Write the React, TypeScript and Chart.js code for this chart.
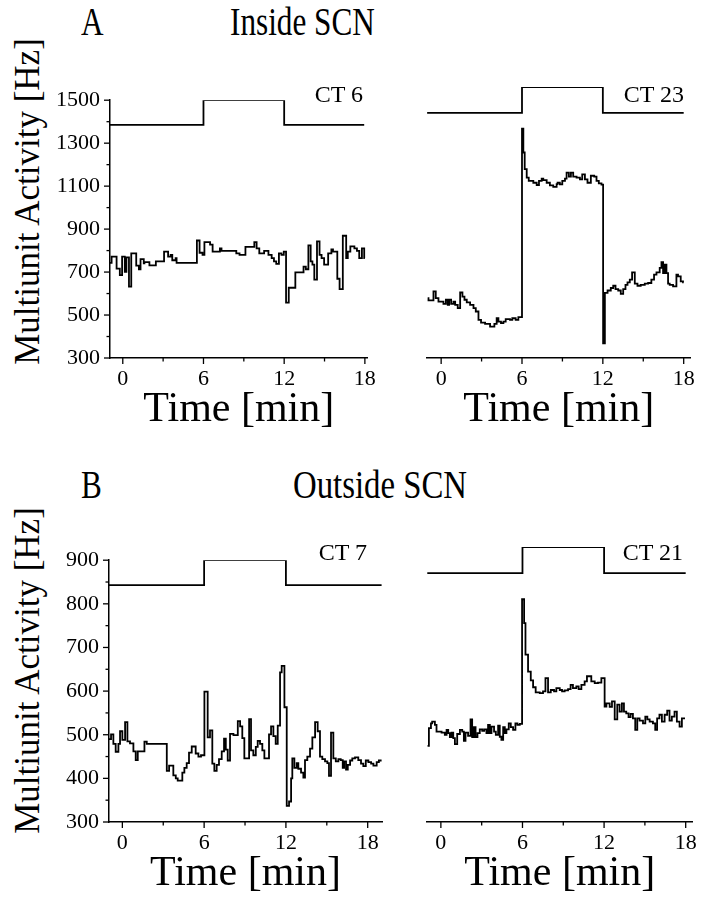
import React, { useEffect, useRef } from "react";
import { Chart, registerables } from "chart.js";

Chart.register(...registerables);

const FONT = "'Liberation Serif', 'Times New Roman', Times, serif";

// ---------- Tick labels ----------
const X_MAJOR = [0, 6, 12, 18];
const X_MINOR = [3, 9, 15];
const Y_MAJOR_A = [300, 500, 700, 900, 1100, 1300, 1500];
const Y_MINOR_A = [400, 600, 800, 1000, 1200, 1400];
const Y_MAJOR_B = [300, 400, 500, 600, 700, 800, 900];
const Y_MINOR_B = [350, 450, 550, 650, 750, 850];

// ---------- Stimulus (light pulse) traces ----------
const stimA_left_t = [-0.95, 6, 12, 17.95];
const stimA_right_t = [-1.04, 6, 12, 18];
const stimA_v = [1385, 1500, 1385, 1385];
const stimB_left_t = [-0.98, 6, 12, 19.02];
const stimB_right_t = [-1.0, 6, 12, 18];
const stimB_v = [843, 900, 843, 843];

// ---------- A: Inside SCN, CT 6 ----------
const ct6Times = [-0.95, -0.83, -0.46, -0.22, -0.05, 0.15, 0.27, 0.46, 0.63, 1.0, 1.2, 1.32, 1.56, 1.61, 1.98, 2.46, 3.07, 3.37, 3.56, 3.68, 3.93, 4.0, 5.51, 5.71, 5.93, 6.07, 6.49, 6.68, 7.22, 7.34, 8.44, 8.68, 9.12, 9.78, 9.95, 10.15, 10.51, 10.83, 11.07, 11.24, 11.41, 11.61, 11.8, 11.97, 12.14, 12.34, 12.83, 13.44, 13.61, 13.8, 13.97, 14.1, 14.24, 14.44, 14.63, 14.78, 14.97, 15.27, 15.51, 15.63, 15.95, 16.12, 16.36, 16.61, 16.73, 16.92, 17.22, 17.41, 17.58, 17.78, 17.95];
const ct6Values = [743, 772, 716, 686, 772, 701, 768, 632, 787, 730, 713, 760, 740, 746, 731, 750, 795, 772, 780, 755, 765, 743, 847, 790, 780, 839, 828, 795, 810, 799, 787, 780, 817, 839, 810, 787, 799, 780, 765, 750, 738, 787, 780, 795, 558, 627, 699, 725, 713, 824, 750, 735, 665, 843, 780, 765, 735, 787, 805, 795, 669, 621, 869, 765, 795, 820, 810, 799, 765, 810, 765];
const ct6End = 18.0;

// ---------- A: Inside SCN, CT 23 ----------
const ct23Times = [-1.0, -0.94, -0.57, -0.4, -0.2, 0.17, 0.35, 0.49, 0.59, 0.74, 0.91, 1.04, 1.23, 1.41, 1.58, 1.73, 1.9, 2.15, 2.4, 2.57, 2.77, 2.96, 3.26, 3.63, 3.95, 4.12, 4.25, 4.44, 4.62, 4.79, 5.11, 5.28, 5.53, 5.73, 6.0, 6.1, 6.2, 6.35, 6.5, 6.84, 7.09, 7.26, 7.46, 7.58, 7.83, 8.07, 8.32, 8.57, 8.64, 8.81, 8.99, 9.19, 9.31, 9.48, 9.63, 9.8, 10.05, 10.3, 10.47, 10.67, 10.86, 11.11, 11.36, 11.53, 11.7, 11.9, 12.02, 12.15, 12.35, 12.59, 12.77, 12.94, 13.14, 13.33, 13.51, 13.68, 13.83, 14.0, 14.17, 14.37, 14.57, 14.81, 15.11, 15.36, 15.6, 15.8, 15.98, 16.22, 16.35, 16.47, 16.59, 16.72, 16.84, 16.96, 17.21, 17.46, 17.58, 17.78, 17.95];
const ct23Values = [565, 555, 595, 565, 550, 540, 558, 535, 558, 540, 550, 535, 521, 590, 572, 558, 546, 535, 521, 506, 469, 457, 451, 439, 451, 476, 461, 454, 461, 472, 469, 476, 469, 481, 1316, 1210, 1136, 1099, 1084, 1076, 1066, 1084, 1094, 1088, 1076, 1064, 1058, 1070, 1076, 1069, 1084, 1094, 1121, 1103, 1121, 1103, 1099, 1091, 1113, 1091, 1076, 1107, 1103, 1084, 1073, 1068, 365, 588, 599, 610, 620, 605, 599, 584, 605, 624, 635, 647, 679, 629, 620, 624, 629, 632, 647, 669, 679, 699, 724, 676, 713, 676, 629, 624, 617, 669, 661, 639, 635];
const ct23End = 18.0;

// ---------- B: Outside SCN, CT 7 ----------
const ct7Times = [-0.98, -0.83, -0.66, -0.49, -0.29, -0.17, 0.0, 0.2, 0.37, 0.56, 0.81, 0.98, 1.13, 1.62, 1.79, 3.26, 3.43, 3.74, 3.92, 4.06, 4.4, 4.55, 4.72, 4.89, 5.09, 5.38, 5.58, 5.77, 6.02, 6.26, 6.43, 6.6, 6.75, 6.92, 7.09, 7.29, 7.46, 7.59, 7.73, 7.9, 8.15, 8.47, 8.64, 8.8, 8.95, 9.3, 9.44, 9.61, 9.79, 9.93, 10.1, 10.27, 10.42, 10.76, 10.91, 11.08, 11.25, 11.4, 11.57, 11.69, 11.89, 12.06, 12.23, 12.38, 12.47, 12.62, 12.79, 12.91, 13.11, 13.28, 13.4, 13.57, 13.77, 13.94, 14.14, 14.33, 14.5, 14.67, 14.87, 15.04, 15.16, 15.31, 15.48, 15.66, 15.85, 16.02, 16.17, 16.27, 16.41, 16.54, 16.71, 16.87, 17.07, 17.31, 17.51, 17.68, 17.86, 18.05, 18.25, 18.42, 18.66, 18.82];
const ct7Values = [490, 501, 479, 461, 479, 508, 488, 529, 485, 480, 462, 442, 462, 484, 479, 417, 429, 407, 400, 395, 413, 424, 435, 459, 473, 457, 450, 453, 599, 494, 510, 434, 417, 431, 444, 462, 491, 466, 441, 502, 499, 531, 519, 492, 446, 536, 464, 453, 472, 486, 479, 464, 446, 501, 519, 497, 479, 521, 643, 658, 563, 337, 347, 400, 446, 424, 435, 422, 413, 402, 442, 450, 468, 494, 529, 508, 450, 444, 439, 435, 406, 505, 446, 439, 444, 442, 424, 439, 420, 431, 441, 446, 448, 442, 434, 428, 441, 437, 434, 429, 437, 441];
const ct7End = 19.02;

// ---------- B: Outside SCN, CT 21 ----------
const ct21Times = [-0.98, -0.88, -0.73, -0.64, -0.44, -0.32, 0.05, 0.29, 0.42, 0.54, 0.66, 0.78, 0.91, 1.03, 1.2, 1.4, 1.57, 1.69, 1.81, 2.0, 2.18, 2.3, 2.42, 2.55, 2.69, 2.86, 3.04, 3.18, 3.35, 3.47, 3.6, 3.72, 3.91, 4.04, 4.21, 4.33, 4.45, 4.58, 4.7, 4.82, 4.99, 5.14, 5.31, 5.48, 5.63, 5.8, 5.97, 6.12, 6.22, 6.41, 6.61, 6.78, 6.97, 7.27, 7.51, 7.69, 7.88, 8.08, 8.32, 8.49, 8.74, 8.91, 9.1, 9.35, 9.54, 9.71, 9.96, 10.13, 10.33, 10.57, 10.74, 11.06, 11.31, 11.55, 11.8, 12.04, 12.17, 12.41, 12.58, 12.78, 12.97, 13.14, 13.31, 13.46, 13.63, 13.8, 13.95, 14.12, 14.29, 14.44, 14.61, 14.86, 15.03, 15.18, 15.35, 15.59, 15.76, 15.9, 16.07, 16.25, 16.45, 16.64, 16.81, 16.98, 17.18, 17.35, 17.55, 17.72];
const ct21Values = [466, 505, 515, 519, 512, 497, 495, 490, 501, 494, 485, 495, 483, 470, 492, 501, 497, 477, 495, 488, 524, 485, 507, 485, 494, 502, 499, 502, 494, 512, 494, 508, 497, 490, 510, 486, 479, 507, 494, 502, 515, 507, 501, 515, 512, 514, 786, 734, 665, 628, 609, 594, 583, 581, 585, 614, 583, 588, 585, 592, 588, 585, 587, 590, 599, 592, 596, 590, 599, 607, 618, 607, 603, 604, 614, 552, 559, 551, 563, 524, 556, 541, 559, 541, 537, 529, 536, 526, 501, 526, 521, 515, 530, 524, 519, 515, 501, 526, 534, 519, 534, 543, 521, 530, 541, 519, 508, 526];
const ct21End = 17.95;

type Box = { L: number; T: number; R: number; B: number };

type PanelProps = {
  box: Box;
  xMin: number;
  xMax: number;
  yMin: number;
  yMax: number;
  yMajor: number[];
  yMinor: number[];
  showY: boolean;
  times: number[];
  values: number[];
  endTime: number;
  stimTimes: number[];
  stimValues: number[];
};

const PAD_L = 100;
const PAD_T = 10;
const PAD_R = 12;
const PAD_B = 90;
const Y_AXIS_W = 90;
const X_AXIS_H = 80;

function Panel(p: PanelProps) {
  const ref = useRef<HTMLCanvasElement | null>(null);
  const W = p.box.R - p.box.L + PAD_L + PAD_R;
  const H = p.box.B - p.box.T + PAD_T + PAD_B;

  useEffect(() => {
    if (!ref.current) return;
    const n = Math.min(p.times.length, p.values.length);
    const pts: { x: number; y: number }[] = [];
    for (let i = 0; i < n; i++) pts.push({ x: p.times[i], y: p.values[i] });
    pts.push({ x: p.endTime, y: p.values[n - 1] });
    const stim = p.stimTimes.map((t, i) => ({ x: t, y: p.stimValues[i] }));

    const tickPlugin = {
      id: "tickMarks",
      afterDraw(chart: any) {
        const { ctx, chartArea } = chart;
        const xs = chart.scales.x;
        const ys = chart.scales.y;
        ctx.save();
        ctx.strokeStyle = "#000";
        ctx.lineWidth = 1.3;
        const line = (x1: number, y1: number, x2: number, y2: number) => {
          ctx.beginPath();
          ctx.moveTo(x1, y1);
          ctx.lineTo(x2, y2);
          ctx.stroke();
        };
        X_MAJOR.forEach((v) => {
          const px = xs.getPixelForValue(v);
          line(px, chartArea.bottom, px, chartArea.bottom + 6);
        });
        X_MINOR.forEach((v) => {
          const px = xs.getPixelForValue(v);
          line(px, chartArea.bottom, px, chartArea.bottom + 3.5);
        });
        if (p.showY) {
          p.yMajor.forEach((v) => {
            const py = ys.getPixelForValue(v);
            line(chartArea.left - 6, py, chartArea.left, py);
          });
          p.yMinor.forEach((v) => {
            const py = ys.getPixelForValue(v);
            line(chartArea.left - 3.5, py, chartArea.left, py);
          });
        }
        ctx.restore();
      },
    };

    const chart = new Chart(ref.current, {
      type: "line",
      data: {
        datasets: [
          {
            data: stim,
            stepped: "before",
            borderColor: "#000",
            borderWidth: 1.8,
            pointRadius: 0,
            fill: false,
          },
          {
            data: pts,
            stepped: "before",
            borderColor: "#000",
            borderWidth: 1.8,
            pointRadius: 0,
            fill: false,
          },
        ],
      },
      options: {
        animation: false,
        responsive: false,
        maintainAspectRatio: false,
        events: [],
        layout: {
          autoPadding: false,
          padding: {
            left: p.showY ? PAD_L - Y_AXIS_W : PAD_L,
            top: PAD_T,
            right: PAD_R,
            bottom: PAD_B - X_AXIS_H,
          },
        },
        plugins: {
          legend: { display: false },
          tooltip: { enabled: false },
        },
        scales: {
          x: {
            type: "linear",
            position: "bottom",
            min: p.xMin,
            max: p.xMax,
            afterBuildTicks: (s: any) => {
              s.ticks = X_MAJOR.map((v) => ({ value: v }));
            },
            afterFit: (s: any) => {
              s.height = X_AXIS_H;
            },
            grid: { display: false, drawTicks: false },
            border: { display: true, color: "#000", width: 1.5 },
            ticks: {
              color: "#000",
              font: { family: FONT, size: 22 },
              padding: 8,
              maxRotation: 0,
              autoSkip: false,
              callback: (v: any) => String(v),
            },
            title: {
              display: true,
              text: "Time [min]",
              color: "#000",
              font: { family: FONT, size: 42 },
              padding: { top: 0, bottom: 3 },
            },
          },
          y: {
            type: "linear",
            display: p.showY,
            min: p.yMin,
            max: p.yMax,
            afterBuildTicks: (s: any) => {
              s.ticks = p.yMajor.map((v) => ({ value: v }));
            },
            afterFit: (s: any) => {
              s.width = p.showY ? Y_AXIS_W : 0;
            },
            grid: { display: false, drawTicks: false },
            border: { display: true, color: "#000", width: 1.5 },
            ticks: {
              color: "#000",
              font: { family: FONT, size: 22 },
              padding: 10,
              autoSkip: false,
              callback: (v: any) => String(v),
            },
          },
        },
      },
      plugins: [tickPlugin],
    } as any);
    return () => chart.destroy();
  }, []);

  return (
    <canvas
      ref={ref}
      width={W}
      height={H}
      style={{
        position: "absolute",
        left: p.box.L - PAD_L,
        top: p.box.T - PAD_T,
        width: W,
        height: H,
      }}
    />
  );
}

const textBase: React.CSSProperties = {
  position: "absolute",
  fontFamily: FONT,
  color: "#000",
  whiteSpace: "nowrap",
};

function Header(props: { text: string; left: number; baseline: number; sx?: number }) {
  return (
    <div
      style={{
        ...textBase,
        left: props.left,
        top: props.baseline - 33.5,
        fontSize: 40,
        lineHeight: "40px",
        transform: `scaleX(${props.sx ?? 0.78})`,
        transformOrigin: "left top",
      }}
    >
      {props.text}
    </div>
  );
}

function CTLabel(props: { text: string; right: number; baseline: number }) {
  return (
    <div
      style={{
        ...textBase,
        right: 702 - props.right,
        top: props.baseline - 20.1,
        fontSize: 24,
        lineHeight: "24px",
        textAlign: "right",
      }}
    >
      {props.text}
    </div>
  );
}

function YTitle(props: { cx: number; cy: number }) {
  const w = 360;
  return (
    <div
      style={{
        ...textBase,
        left: props.cx - w / 2,
        top: props.cy - 17.5,
        width: w,
        fontSize: 35,
        lineHeight: "35px",
        textAlign: "center",
        transform: "rotate(-90deg)",
        transformOrigin: "center center",
      }}
    >
      Multiunit Activity [Hz]
    </div>
  );
}

export default function App() {
  return (
    <div
      style={{
        position: "absolute",
        left: 0,
        top: 0,
        width: 702,
        height: 900,
        background: "#fff",
        overflow: "hidden",
      }}
    >
      <Header text="A" left={81} baseline={35} />
      <Header text="Inside SCN" left={230} baseline={35} />
      <Header text="B" left={81} baseline={498} />
      <Header text="Outside SCN" left={293} baseline={498} sx={0.82} />

      <YTitle cx={27} cy={201} />
      <YTitle cx={27} cy={670} />

      <Panel
        box={{ L: 110, T: 87, R: 372, B: 358 }}
        xMin={-0.95}
        xMax={18.2}
        yMin={300}
        yMax={1500}
        yMajor={Y_MAJOR_A}
        yMinor={Y_MINOR_A}
        showY={true}
        times={ct6Times}
        values={ct6Values}
        endTime={ct6End}
        stimTimes={stimA_left_t}
        stimValues={stimA_v}
      />
      <Panel
        box={{ L: 427, T: 87, R: 691, B: 358 }}
        xMin={-1.05}
        xMax={18.5}
        yMin={300}
        yMax={1500}
        yMajor={Y_MAJOR_A}
        yMinor={Y_MINOR_A}
        showY={false}
        times={ct23Times}
        values={ct23Values}
        endTime={ct23End}
        stimTimes={stimA_right_t}
        stimValues={stimA_v}
      />
      <Panel
        box={{ L: 109, T: 547, R: 382, B: 822 }}
        xMin={-0.98}
        xMax={19.05}
        yMin={300}
        yMax={900}
        yMajor={Y_MAJOR_B}
        yMinor={Y_MINOR_B}
        showY={true}
        times={ct7Times}
        values={ct7Values}
        endTime={ct7End}
        stimTimes={stimB_left_t}
        stimValues={stimB_v}
      />
      <Panel
        box={{ L: 427, T: 547, R: 693, B: 822 }}
        xMin={-1.02}
        xMax={18.5}
        yMin={300}
        yMax={900}
        yMajor={Y_MAJOR_B}
        yMinor={Y_MINOR_B}
        showY={false}
        times={ct21Times}
        values={ct21Values}
        endTime={ct21End}
        stimTimes={stimB_right_t}
        stimValues={stimB_v}
      />

      <CTLabel text="CT 6" right={363} baseline={102} />
      <CTLabel text="CT 23" right={684} baseline={102} />
      <CTLabel text="CT 7" right={367} baseline={560} />
      <CTLabel text="CT 21" right={683} baseline={560} />
    </div>
  );
}
